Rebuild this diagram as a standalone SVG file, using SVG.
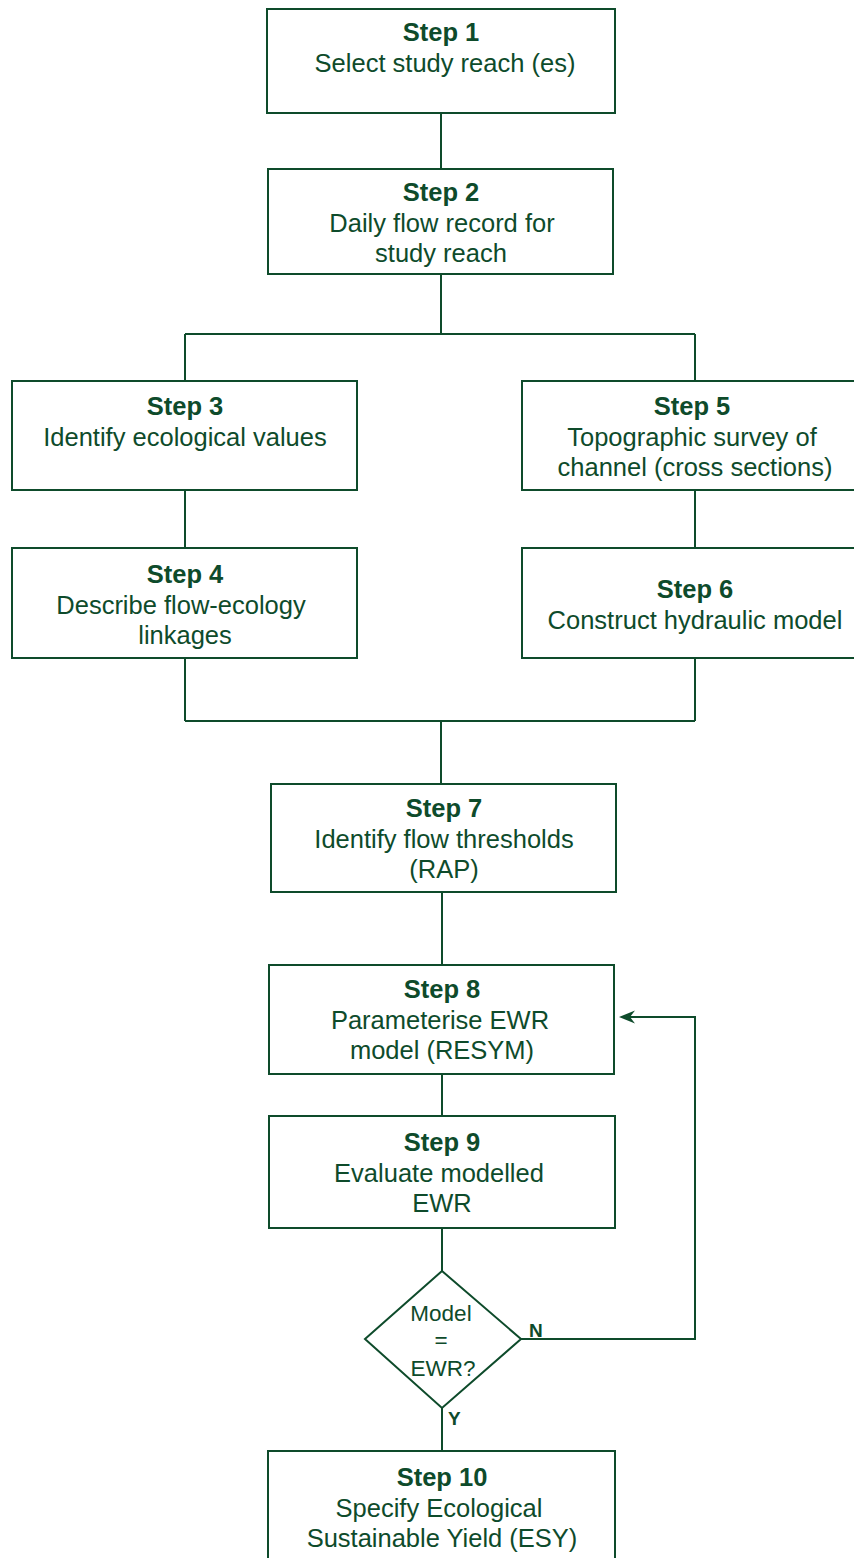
<svg xmlns="http://www.w3.org/2000/svg" width="854" height="1558" viewBox="0 0 854 1558">
<style>
.box{fill:#fff;stroke:#0e4b2b;stroke-width:2}
.ln{fill:none;stroke:#0e4b2b;stroke-width:2}
text{font-family:"Liberation Sans",Arial,sans-serif;font-size:25.5px;fill:#0e4b2b;text-anchor:middle}
.b{font-weight:bold}
.sm{font-size:22.5px}
.lab{font-size:19px;font-weight:bold;text-anchor:start}
</style>
<rect width="854" height="1558" fill="#fff"/>
<g id="connectors">
<path class="ln" d="M441,113V169"/>
<path class="ln" d="M441,274V334M185,334H695M185,334V381M695,334V381"/>
<path class="ln" d="M185,490V548M695,490V548"/>
<path class="ln" d="M185,658V721M695,658V721M185,721H695M441,721V784"/>
<path class="ln" d="M442,892V965"/>
<path class="ln" d="M442,1074V1116"/>
<path class="ln" d="M442,1228V1271"/>
<path class="ln" d="M442,1408V1451"/>
<path class="ln" d="M521,1339H695V1017H628"/>
<path d="M619,1017L635,1010.5L630,1017L635,1023.5Z" fill="#0e4b2b"/>
<text class="lab" x="529" y="1337">N</text>
<text class="lab" x="448" y="1425">Y</text>
</g>
<g id="step1"><rect class="box" x="267" y="9" width="348" height="104"/>
<text class="b" x="441" y="41">Step 1</text><text x="445" y="72">Select study reach (es)</text></g>
<g id="step2"><rect class="box" x="268" y="169" width="345" height="105"/>
<text class="b" x="441" y="201">Step 2</text><text x="442" y="232">Daily flow record for</text><text x="441" y="262">study reach</text></g>
<g id="step3"><rect class="box" x="12" y="381" width="345" height="109"/>
<text class="b" x="185" y="415">Step 3</text><text x="185" y="446">Identify ecological values</text></g>
<g id="step5"><rect class="box" x="522" y="381" width="346" height="109"/>
<text class="b" x="692" y="415">Step 5</text><text x="692" y="446">Topographic survey of</text><text x="695" y="476">channel (cross sections)</text></g>
<g id="step4"><rect class="box" x="12" y="548" width="345" height="110"/>
<text class="b" x="185" y="583">Step 4</text><text x="181" y="614">Describe flow-ecology</text><text x="185" y="644">linkages</text></g>
<g id="step6"><rect class="box" x="522" y="548" width="346" height="110"/>
<text class="b" x="695" y="598">Step 6</text><text x="695" y="629">Construct hydraulic model</text></g>
<g id="step7"><rect class="box" x="271" y="784" width="345" height="108"/>
<text class="b" x="444" y="817">Step 7</text><text x="444" y="848">Identify flow thresholds</text><text x="444" y="878">(RAP)</text></g>
<g id="step8"><rect class="box" x="269" y="965" width="345" height="109"/>
<text class="b" x="442" y="998">Step 8</text><text x="440" y="1029">Parameterise EWR</text><text x="442" y="1059">model (RESYM)</text></g>
<g id="step9"><rect class="box" x="269" y="1116" width="346" height="112"/>
<text class="b" x="442" y="1151">Step 9</text><text x="439" y="1182">Evaluate modelled</text><text x="442" y="1212">EWR</text></g>
<g id="decision"><polygon class="box" points="442,1271 521,1339 442,1408 365,1339"/>
<text class="sm" x="441" y="1321">Model</text><text class="sm" x="441" y="1348">=</text><text class="sm" x="443" y="1376">EWR?</text></g>
<g id="step10"><rect class="box" x="268" y="1451" width="347" height="115"/>
<text class="b" x="442" y="1486">Step 10</text><text x="439" y="1517">Specify Ecological</text><text x="442" y="1547">Sustainable Yield (ESY)</text></g>
</svg>
